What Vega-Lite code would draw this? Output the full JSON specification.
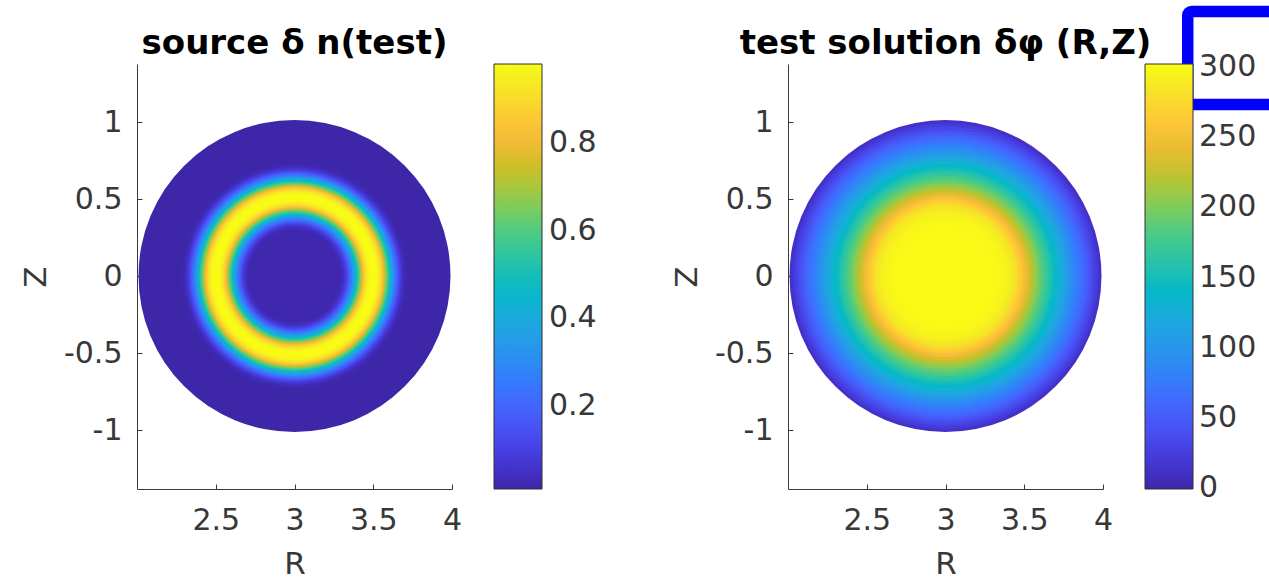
{
  "$schema": "https://vega.github.io/schema/vega-lite/v6.json",
  "background": "white",
  "autosize": {"type": "pad"},
  "padding": {"left": 20, "top": 5, "right": 0, "bottom": 0},
  "bounds": "flush",
  "spacing": 336,
  "config": {
    "font": "DejaVu Sans",
    "view": {"stroke": null},
    "axis": {
      "grid": false,
      "domainColor": "#3a3a3a",
      "domainWidth": 1,
      "tickColor": "#3a3a3a",
      "tickSize": -5,
      "tickWidth": 1,
      "format": "~g",
      "labelFont": "DejaVu Sans",
      "labelFontSize": 30,
      "labelColor": "#383838",
      "labelFlush": false,
      "labelOverlap": false,
      "titleFont": "DejaVu Sans",
      "titleFontSize": 31,
      "titleFontWeight": "normal",
      "titleColor": "#383838",
      "zindex": 1
    },
    "axisX": {"labelPadding": 21, "titlePadding": 14},
    "axisY": {"labelPadding": 20, "titlePadding": 11},
    "legend": {
      "orient": "right",
      "offset": 42,
      "padding": 0,
      "gradientLength": 425,
      "gradientThickness": 48,
      "gradientStrokeColor": "#303030",
      "gradientStrokeWidth": 1,
      "labelFont": "DejaVu Sans",
      "labelFontSize": 30,
      "labelColor": "#383838",
      "labelOverlap": false
    },
    "title": {
      "font": "DejaVu Sans",
      "fontSize": 34,
      "fontWeight": "bold",
      "color": "#000000",
      "anchor": "middle",
      "offset": 3
    }
  },
  "datasets": {
    "source": [
      {"r": 1.00, "v": 0.011},
      {"r": 0.74, "v": 0.013},
      {"r": 0.73, "v": 0.016},
      {"r": 0.72, "v": 0.022},
      {"r": 0.71, "v": 0.032},
      {"r": 0.70, "v": 0.048},
      {"r": 0.69, "v": 0.075},
      {"r": 0.68, "v": 0.11},
      {"r": 0.67, "v": 0.155},
      {"r": 0.66, "v": 0.205},
      {"r": 0.65, "v": 0.26},
      {"r": 0.64, "v": 0.32},
      {"r": 0.63, "v": 0.385},
      {"r": 0.62, "v": 0.455},
      {"r": 0.61, "v": 0.53},
      {"r": 0.60, "v": 0.61},
      {"r": 0.59, "v": 0.69},
      {"r": 0.58, "v": 0.77},
      {"r": 0.57, "v": 0.84},
      {"r": 0.56, "v": 0.895},
      {"r": 0.55, "v": 0.935},
      {"r": 0.54, "v": 0.96},
      {"r": 0.53, "v": 0.975},
      {"r": 0.52, "v": 0.98},
      {"r": 0.51, "v": 0.98},
      {"r": 0.50, "v": 0.98},
      {"r": 0.49, "v": 0.975},
      {"r": 0.48, "v": 0.96},
      {"r": 0.47, "v": 0.935},
      {"r": 0.46, "v": 0.895},
      {"r": 0.45, "v": 0.84},
      {"r": 0.44, "v": 0.77},
      {"r": 0.43, "v": 0.69},
      {"r": 0.42, "v": 0.61},
      {"r": 0.41, "v": 0.53},
      {"r": 0.40, "v": 0.455},
      {"r": 0.39, "v": 0.385},
      {"r": 0.38, "v": 0.32},
      {"r": 0.37, "v": 0.26},
      {"r": 0.36, "v": 0.205},
      {"r": 0.35, "v": 0.155},
      {"r": 0.34, "v": 0.11},
      {"r": 0.33, "v": 0.075},
      {"r": 0.32, "v": 0.048},
      {"r": 0.31, "v": 0.032},
      {"r": 0.30, "v": 0.024},
      {"r": 0.29, "v": 0.02},
      {"r": 0.28, "v": 0.019}
    ],
    "solution": [
      {"r": 1.00, "v": 12.8},
      {"r": 0.98, "v": 22.4},
      {"r": 0.96, "v": 32},
      {"r": 0.94, "v": 41.2},
      {"r": 0.92, "v": 50.4},
      {"r": 0.90, "v": 59.2},
      {"r": 0.88, "v": 67.6},
      {"r": 0.86, "v": 76},
      {"r": 0.84, "v": 84.4},
      {"r": 0.82, "v": 92.8},
      {"r": 0.80, "v": 101.6},
      {"r": 0.78, "v": 110.8},
      {"r": 0.76, "v": 120},
      {"r": 0.74, "v": 130},
      {"r": 0.72, "v": 140},
      {"r": 0.70, "v": 150},
      {"r": 0.68, "v": 160},
      {"r": 0.66, "v": 170},
      {"r": 0.64, "v": 180.4},
      {"r": 0.62, "v": 190.8},
      {"r": 0.60, "v": 201.6},
      {"r": 0.58, "v": 212.8},
      {"r": 0.56, "v": 224},
      {"r": 0.54, "v": 236.4},
      {"r": 0.52, "v": 248.8},
      {"r": 0.50, "v": 260.4},
      {"r": 0.48, "v": 271.2},
      {"r": 0.46, "v": 282},
      {"r": 0.44, "v": 287.2},
      {"r": 0.42, "v": 292.4},
      {"r": 0.40, "v": 295.8},
      {"r": 0.38, "v": 297.4},
      {"r": 0.36, "v": 299},
      {"r": 0.34, "v": 300},
      {"r": 0.32, "v": 300.6},
      {"r": 0.30, "v": 301}
    ],
    "highlight": [
      {"r1": 4.538, "r2": 5.12, "z1": 1.114, "z2": 1.718}
    ]
  },
  "resolve": {"scale": {"color": "independent"}, "legend": {"color": "independent"}},
  "hconcat": [
    {
      "width": 315,
      "height": 425,
      "title": {"text": "source δ n(test)"},
      "layer": [
        {
          "data": {"name": "source"},
          "mark": {"type": "arc", "theta": 6.2832},
          "encoding": {
            "x": {"datum": 3, "type": "quantitative", "scale": {"domain": [2, 4], "nice": false, "zero": false}, "axis": {"title": "R", "values": [2.5, 3, 3.5, 4]}},
            "y": {"datum": 0, "type": "quantitative", "scale": {"domain": [-1.383, 1.377], "nice": false, "zero": false}, "axis": {"title": "Z", "values": [-1, -0.5, 0, 0.5, 1], "labelExpr": "replace(datum.label, '\u2212', '-')"}},
            "radius": {"field": "r", "type": "quantitative", "stack": null, "scale": {"type": "linear", "domain": [0, 1], "range": [0, 156], "zero": true, "nice": false}},
            "color": {
              "field": "v", "type": "quantitative",
              "scale": {"domain": [0.011, 0.98], "interpolate": "rgb", "range": ["#3E26A8","#4332CB","#4741E5","#4852F4","#4563FD","#3875FE","#2E87F7","#2797EB","#20A5E3","#12B1D6","#02BAC3","#24C1AE","#37C897","#57CC7A","#81CC59","#ABC739","#D1BF27","#F0BA36","#FEC338","#FAD62D","#F5E924","#F9FB15"]},
              "legend": {"title": null, "values": [0.2, 0.4, 0.6, 0.8], "labelOffset": 7}
            }
          }
        }
      ]
    },
    {
      "width": 315,
      "height": 425,
      "title": {"text": "test solution δφ (R,Z)", "offset": -55.25},
      "layer": [
        {
          "data": {"name": "solution"},
          "mark": {"type": "arc", "theta": 6.2832},
          "encoding": {
            "x": {"datum": 3, "type": "quantitative", "scale": {"domain": [2, 4], "nice": false, "zero": false}, "axis": {"title": "R", "values": [2.5, 3, 3.5, 4]}},
            "y": {"datum": 0, "type": "quantitative", "scale": {"domain": [-1.383, 1.377], "nice": false, "zero": false}, "axis": {"title": "Z", "values": [-1, -0.5, 0, 0.5, 1], "labelExpr": "replace(datum.label, '\u2212', '-')"}},
            "radius": {"field": "r", "type": "quantitative", "stack": null, "scale": {"type": "linear", "domain": [0, 1], "range": [0, 156], "zero": true, "nice": false}},
            "color": {
              "field": "v", "type": "quantitative",
              "scale": {"domain": [-0.5, 302], "interpolate": "rgb", "range": ["#3E26A8","#4332CB","#4741E5","#4852F4","#4563FD","#3875FE","#2E87F7","#2797EB","#20A5E3","#12B1D6","#02BAC3","#24C1AE","#37C897","#57CC7A","#81CC59","#ABC739","#D1BF27","#F0BA36","#FEC338","#FAD62D","#F5E924","#F9FB15"]},
              "legend": {"title": null, "values": [0, 50, 100, 150, 200, 250, 300], "labelOffset": 6}
            }
          }
        },
        {
          "data": {"name": "highlight"},
          "mark": {"type": "rect", "filled": false, "stroke": "#0000FF", "strokeWidth": 11.5, "cornerRadius": 4, "clip": false},
          "encoding": {
            "x": {"field": "r1", "type": "quantitative", "scale": {"domain": [2, 4], "nice": false, "zero": false}},
            "x2": {"field": "r2"},
            "y": {"field": "z1", "type": "quantitative", "scale": {"domain": [-1.383, 1.377], "nice": false, "zero": false}},
            "y2": {"field": "z2"}
          }
        }
      ]
    }
  ]
}
